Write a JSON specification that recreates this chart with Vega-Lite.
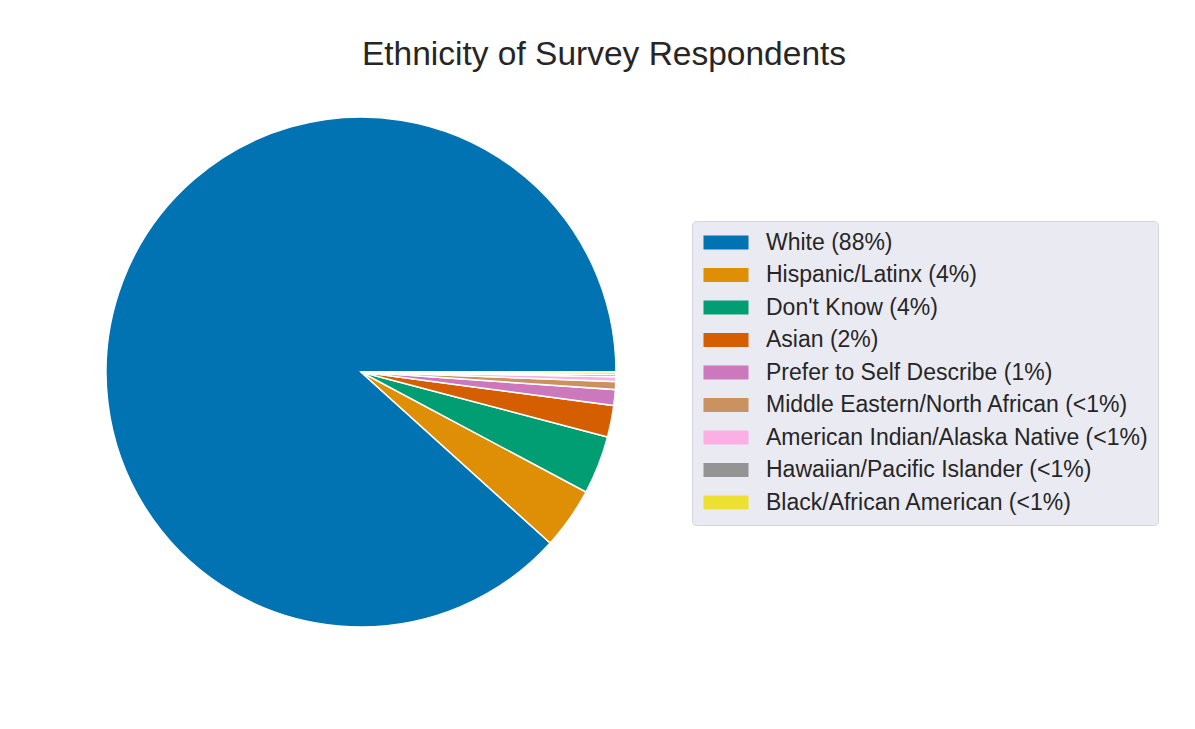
{
  "$schema": "https://vega.github.io/schema/vega-lite/v6.json",
  "width": 510,
  "height": 510,
  "autosize": {"type": "none"},
  "padding": {"left": 106, "top": 117, "right": 579, "bottom": 102},
  "background": "white",
  "config": {"view": {"stroke": null}, "font": "Liberation Sans"},
  "title": {
    "text": "Ethnicity of Survey Respondents",
    "font": "Liberation Sans",
    "fontSize": 33.5,
    "fontWeight": "normal",
    "color": "#262626",
    "anchor": "middle",
    "dx": 243,
    "offset": 42
  },
  "data": {
    "values": [
      {"group": "White (88%)", "pct": 88.3, "rank": 1},
      {"group": "Hispanic/Latinx (4%)", "pct": 3.9, "rank": 2},
      {"group": "Don't Know (4%)", "pct": 3.7, "rank": 3},
      {"group": "Asian (2%)", "pct": 2.0, "rank": 4},
      {"group": "Prefer to Self Describe (1%)", "pct": 1.0, "rank": 5},
      {"group": "Middle Eastern/North African (<1%)", "pct": 0.5, "rank": 6},
      {"group": "American Indian/Alaska Native (<1%)", "pct": 0.3, "rank": 7},
      {"group": "Hawaiian/Pacific Islander (<1%)", "pct": 0.15, "rank": 8},
      {"group": "Black/African American (<1%)", "pct": 0.15, "rank": 9}
    ]
  },
  "mark": {"type": "arc", "stroke": "white", "strokeWidth": 1.5},
  "encoding": {
    "theta": {
      "field": "pct",
      "type": "quantitative",
      "stack": true,
      "scale": {"range": [1.5708, 7.854]}
    },
    "order": {"field": "rank", "type": "quantitative", "sort": "descending"},
    "color": {
      "field": "group",
      "type": "nominal",
      "scale": {
        "domain": [
          "White (88%)",
          "Hispanic/Latinx (4%)",
          "Don't Know (4%)",
          "Asian (2%)",
          "Prefer to Self Describe (1%)",
          "Middle Eastern/North African (<1%)",
          "American Indian/Alaska Native (<1%)",
          "Hawaiian/Pacific Islander (<1%)",
          "Black/African American (<1%)"
        ],
        "range": ["#0173B2", "#DE8F05", "#029E73", "#D55E00", "#CC78BC", "#CA9161", "#FBAFE4", "#949494", "#ECE133"]
      },
      "legend": {
        "title": null,
        "orient": "none",
        "legendX": 586,
        "legendY": 104,
        "fillColor": "#EAEAF2",
        "strokeColor": "#D5D5DD",
        "cornerRadius": 4,
        "padding": 10,
        "symbolType": "M-2,-1.4L7,-1.4L7,1.4L-2,1.4Z",
        "symbolSize": 100,
        "symbolStrokeWidth": 0,
        "labelFont": "Liberation Sans",
        "labelFontSize": 23,
        "labelColor": "#262626",
        "labelOffset": 41,
        "labelLimit": 600,
        "rowPadding": 8.5
      }
    }
  }
}
